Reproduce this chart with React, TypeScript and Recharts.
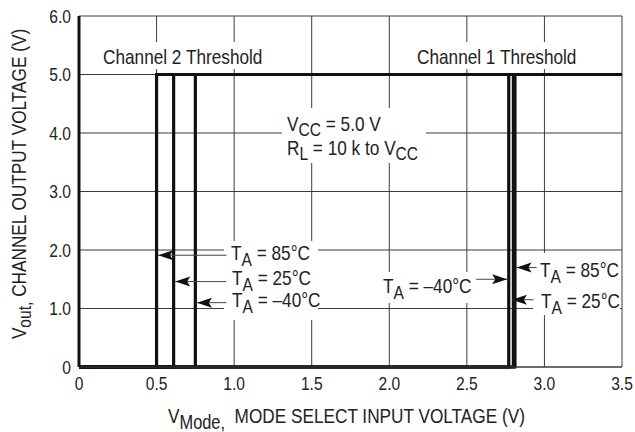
import React from "react";
import {
  LineChart,
  Line,
  XAxis,
  YAxis,
  CartesianGrid,
  ReferenceLine,
  ReferenceDot,
} from "recharts";

// no narrow face installed, so Arial-metric text is squeezed horizontally
const FONT = '"Liberation Sans", Arial, sans-serif';
const SQUEEZE = 0.82;
const INK = "#222";
const GRID = "#3c3c3c";

// axis ticks
const xTicks = [0, 0.5, 1.0, 1.5, 2.0, 2.5, 3.0, 3.5];
const yTicks = [0, 1, 2, 3, 4, 5, 6];

// thresholds, in order 85°C, 25°C, -40°C
const temps = ["85", "25", "-40"];
const ch2Threshold = [0.5, 0.61, 0.75];
const ch1Threshold = [2.81, 2.8, 2.77];
const outLow = 0;
const outHigh = 5;
const vModeMax = 3.5;

// callout arrows: [tailX, tipX, y]
const ch2Arrows = [
  [0.95, 0.51, 1.91],
  [0.95, 0.62, 1.46],
  [0.95, 0.76, 1.1],
];
const ch1Arrows = [
  [2.95, 2.82, 1.7],
  [2.93, 2.79, 1.15],
  [2.56, 2.76, 1.5],
];

const stepData = (t: number) => [
  { x: 0, y: outLow },
  { x: t, y: outLow },
  { x: t, y: outHigh },
  { x: vModeMax, y: outHigh },
];

const fmt = (v: number) => (v === 0 ? "0" : v.toFixed(1));

const arrowHead = (dir: number) => (p: any) => {
  const { cx, cy } = p;
  const l = 15 * dir;
  return (
    <polygon
      points={`${cx},${cy} ${cx + l},${cy - 5} ${cx + l * 0.8},${cy} ${cx + l},${cy + 5}`}
      fill="#111"
    />
  );
};

function Cond({
  x,
  y,
  rotate = 0,
  anchor = "start",
  size = 21,
  dy,
  children,
}: any) {
  return (
    <g transform={`translate(${x},${y}) rotate(${rotate}) scale(${SQUEEZE},1)`}>
      <text
        x={0}
        y={0}
        dy={dy}
        textAnchor={anchor}
        fontFamily={FONT}
        fontSize={size}
        fill={INK}
      >
        {children}
      </text>
    </g>
  );
}

const CondTick = (dy: string) => (p: any) => (
  <Cond x={p.x} y={p.y} anchor={p.textAnchor} size={19} dy={dy}>
    {fmt(p.payload.value)}
  </Cond>
);

function TA({ x, y, rest }: { x: number; y: number; rest: string }) {
  return (
    <Cond x={x} y={y}>
      T
      <tspan dy={6} fontSize={19}>
        A
      </tspan>
      <tspan dy={-6}>{rest}</tspan>
    </Cond>
  );
}

function Annotations() {
  return (
    <g>
      <rect x={98} y={42} width={172} height={27} fill="#fff" />
      <Cond x={103} y={64}>Channel 2 Threshold</Cond>
      <rect x={412} y={42} width={170} height={27} fill="#fff" />
      <Cond x={417} y={64}>Channel 1 Threshold</Cond>

      <rect x={282} y={108} width={144} height={55} fill="#fff" />
      <Cond x={287} y={131}>
        V<tspan dy={5} fontSize={19}>CC</tspan>
        <tspan dy={-5}> = 5.0 V</tspan>
      </Cond>
      <Cond x={287} y={155}>
        R<tspan dy={5} fontSize={19}>L</tspan>
        <tspan dy={-5}> = 10 k to V</tspan>
        <tspan dy={5} fontSize={19}>CC</tspan>
      </Cond>

      <rect x={224} y={241} width={94} height={79} fill="#fff" />
      <TA x={231} y={260} rest=" = 85°C" />
      <TA x={232} y={285} rest=" = 25°C" />
      <TA x={232} y={307} rest=" = –40°C" />

      <rect x={380} y={272} width={96} height={31} fill="#fff" />
      <TA x={383} y={293} rest=" = –40°C" />
      <rect x={533} y={253} width={87} height={62} fill="#fff" />
      <TA x={540} y={277} rest=" = 85°C" />
      <TA x={541} y={308} rest=" = 25°C" />

      <Cond x={26} y={184} rotate={-90} anchor="middle">
        V<tspan dy={5} fontSize={19}>out,</tspan>
        <tspan dy={-5}> CHANNEL OUTPUT VOLTAGE (V)</tspan>
      </Cond>
      <Cond x={168} y={423}>
        V<tspan dy={6} fontSize={20}>Mode,</tspan>
        <tspan dy={-6}>{"\u00a0\u00a0MODE SELECT INPUT VOLTAGE (V)"}</tspan>
      </Cond>
    </g>
  );
}

export default function App() {
  return (
    <div style={{ position: "absolute", left: 0, top: 0, background: "#fff" }}>
      <LineChart
        width={635}
        height={432}
        margin={{ top: 16, right: 13, left: 0, bottom: 0 }}
      >
        <CartesianGrid stroke={GRID} strokeWidth={1} />
        <XAxis
          dataKey="x"
          type="number"
          domain={[0, vModeMax]}
          ticks={xTicks}
          tickLine={false}
          axisLine={{ stroke: GRID }}
          height={65}
          tick={CondTick("0.71em")}
          tickMargin={4}
          allowDuplicatedCategory={false}
        />
        <YAxis
          dataKey="y"
          type="number"
          domain={[0, 6]}
          ticks={yTicks}
          tickLine={false}
          axisLine={{ stroke: "#111", strokeWidth: 3 }}
          width={79}
          tick={CondTick("0.355em")}
          tickMargin={2}
        />
        <Annotations />
        {ch2Threshold.map((t, i) => (
          <Line
            key={`ch2-${temps[i]}`}
            data={stepData(t)}
            dataKey="y"
            type="linear"
            stroke="#111"
            strokeWidth={3.2}
            dot={false}
            isAnimationActive={false}
          />
        ))}
        {ch1Threshold.map((t, i) => (
          <Line
            key={`ch1-${temps[i]}`}
            data={stepData(t)}
            dataKey="y"
            type="linear"
            stroke="#111"
            strokeWidth={3.2}
            dot={false}
            isAnimationActive={false}
          />
        ))}
        {[...ch2Arrows, ...ch1Arrows].map(([tail, tip, y], i) => (
          <ReferenceLine
            key={`al-${i}`}
            segment={[
              { x: tail, y },
              { x: tip, y },
            ]}
            stroke="#444"
            strokeWidth={1}
          />
        ))}
        {[...ch2Arrows, ...ch1Arrows].map(([tail, tip, y], i) => (
          <ReferenceDot
            key={`ah-${i}`}
            x={tip}
            y={y}
            shape={arrowHead(tail > tip ? 1 : -1)}
          />
        ))}
      </LineChart>
    </div>
  );
}
